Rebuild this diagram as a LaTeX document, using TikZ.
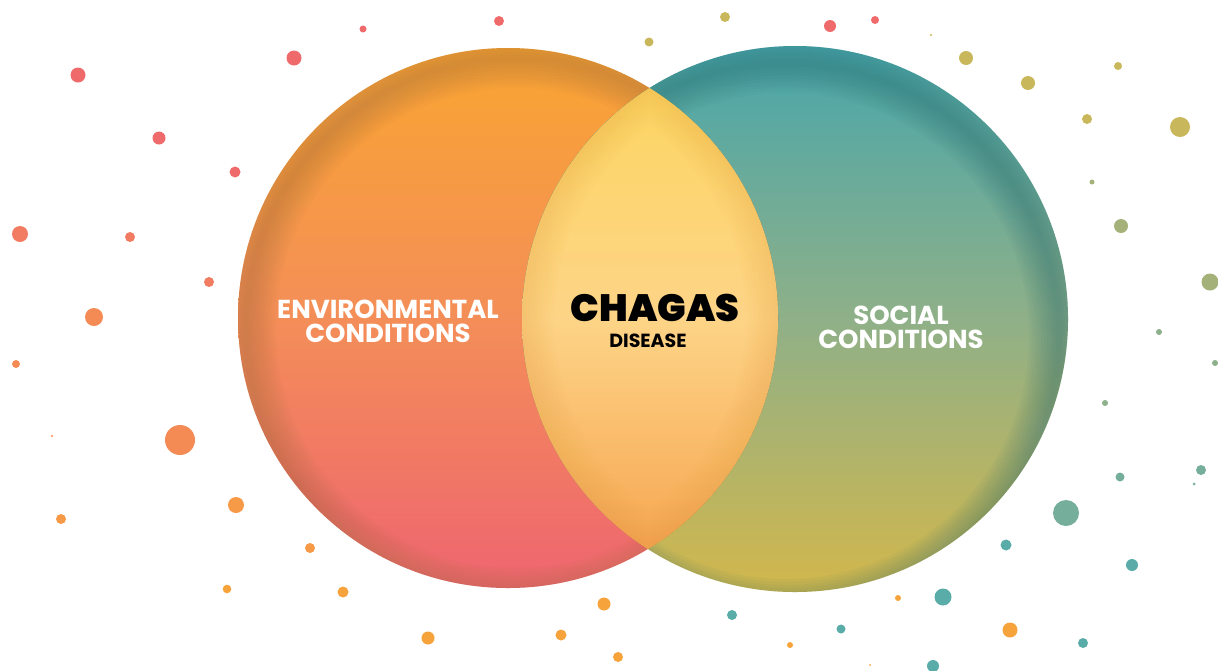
\documentclass[tikz,border=0pt]{standalone}
\usepackage{fontspec}
\setmainfont{Poppins}
\newfontfamily\heavyfont{Poppins Black}
\definecolor{envtop}{HTML}{F9A532}
\definecolor{envmid}{HTML}{F48E58}
\definecolor{envbot}{HTML}{EE6570}
\definecolor{soctop}{HTML}{48A6AB}
\definecolor{socmid}{HTML}{8FB088}
\definecolor{socbot}{HTML}{D2B74C}
\definecolor{lenstop}{HTML}{FCD65C}
\definecolor{lensmid}{HTML}{FDD487}
\definecolor{lensbot}{HTML}{F59E48}
\definecolor{envrim}{HTML}{9E6A3A}
\definecolor{socrim}{HTML}{2C6E70}
\definecolor{lensrim}{HTML}{F0A040}
\definecolor{dotred}{HTML}{EF6B6B}
\definecolor{dotcoral}{HTML}{F27C62}
\definecolor{dotsalmon}{HTML}{F48B55}
\definecolor{dotorange}{HTML}{F69A48}
\definecolor{dotamber}{HTML}{F7A33C}
\definecolor{dotolive}{HTML}{C8B85B}
\definecolor{dotsage}{HTML}{A4B27A}
\definecolor{dotgreen}{HTML}{8DB08A}
\definecolor{dotmint}{HTML}{76AE9C}
\definecolor{dotteal}{HTML}{5AACA8}
\tikzset{
  bigtext/.style={text=white, font=\bfseries\fontsize{13}{12}\selectfont, align=center, inner sep=0pt},
  chagastext/.style={text=black, font=\heavyfont\fontsize{19}{20}\selectfont, inner sep=0pt},
  diseasetext/.style={text=black, font=\bfseries\fontsize{9.5}{10}\selectfont, inner sep=0pt}
}
\begin{document}
\begin{tikzpicture}[x=0.5pt,y=-0.5pt]
        \useasboundingbox (0,0) rectangle (1218,670);
        %Puntos
        \foreach \x/\y/\r in {78/75/7.5, 294/58/7.5, 363/29/3.5, 499/21/5, 830/26/6, 875/20/4, 159/138/6.5, 235/172/5.5}
        \fill[dotred] (\x,\y) circle (\r);
        \foreach \x/\y/\r in {20/234/8, 130/237/5, 209/282/5}
        \fill[dotcoral] (\x,\y) circle (\r);
        \foreach \x/\y/\r in {94/317/9, 16/364/4, 52/436/1.2, 180/440/15}
        \fill[dotsalmon] (\x,\y) circle (\r);
        \foreach \x/\y/\r in {236/505/8, 61/519/5, 310/548/5}
        \fill[dotorange] (\x,\y) circle (\r);
        \foreach \x/\y/\r in {227/589/4.3, 343/592/5.5, 428/638/6.5, 561/635/5.5, 604/604/6.5, 618/657/5, 790/645/3, 898/598/3, 1010/630/7.5, 870/665/1}
        \fill[dotamber] (\x,\y) circle (\r);
        \foreach \x/\y/\r in {732/615/5, 841/629/4.5, 943/597/8.5, 933/666/6, 1083/643/5, 1006/545/5.5, 1132/565/6}
        \fill[dotteal] (\x,\y) circle (\r);
        \foreach \x/\y/\r in {1066/513/13, 1120/477/4.5, 1201/470/5, 1194/484/1.5}
        \fill[dotmint] (\x,\y) circle (\r);
        \foreach \x/\y/\r in {1105/403/3, 1215/363/3, 1159/332/3}
        \fill[dotgreen] (\x,\y) circle (\r);
        \foreach \x/\y/\r in {1210/282/8.5, 1121/226/7, 1092/182/2.5}
        \fill[dotsage] (\x,\y) circle (\r);
        \foreach \x/\y/\r in {1087/119/5, 1180/127/10, 1118/66/4, 1028/83/7, 966/58/7, 931/35/1.2, 725/17/5, 649/42/4.5}
        \fill[dotolive] (\x,\y) circle (\r);
        %Circulos
        \shade[top color=envtop, bottom color=envbot, middle color=envmid] (508,318) circle (270);
        \shade[top color=soctop, bottom color=socbot, middle color=socmid] (795,319) circle (273);
        %Sombras de borde
        \begin{scope}
            \clip (508,318) circle (270);
            \foreach \w in {3,6,...,30}
            \draw[envrim, opacity=.045, line width=\w pt] (516,328) circle (270);
        \end{scope}
        \begin{scope}
            \clip (795,319) circle (273);
            \foreach \w in {3,6,...,30}
            \draw[socrim, opacity=.05, line width=\w pt] (786,336) circle (273);
        \end{scope}
        %Interseccion
        \begin{scope}
            \clip (508,318) circle (270);
            \clip (795,319) circle (273);
            \shade[top color=lenstop, bottom color=lensbot, middle color=lensmid] (795,319) circle (273);
            \foreach \w in {4,8,...,32}
            \draw[lensrim, opacity=.035, line width=\w pt] (508,318) circle (270) (795,319) circle (273);
        \end{scope}
        %Textos
        \node[bigtext] (env) at (388,321) {ENVIRONMENTAL\\CONDITIONS};
        \node[bigtext] (soc) at (901,327) {SOCIAL\\CONDITIONS};
        \node[chagastext] (chagas) at (655,308) {CHAGAS};
        \node[diseasetext] (disease) at (648,341) {DISEASE};
    \end{tikzpicture}
\end{document}
